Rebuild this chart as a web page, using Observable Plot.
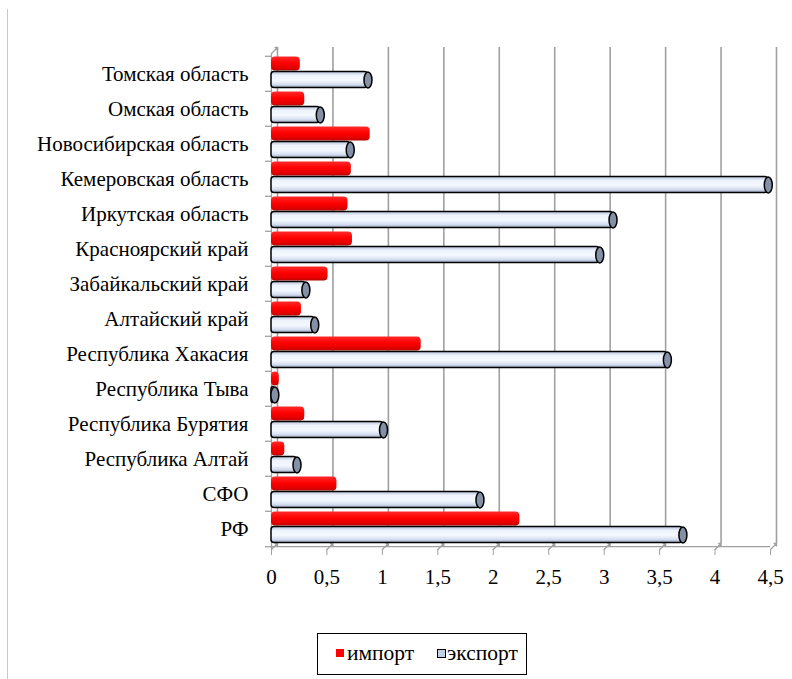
<!DOCTYPE html>
<html>
<head>
<meta charset="utf-8">
<script src="https://cdn.jsdelivr.net/npm/d3@7"></script>
<script src="https://cdn.jsdelivr.net/npm/@observablehq/plot@0.6"></script>
<style>
  html, body { margin: 0; padding: 0; background: #fff; }
  #wrap { position: relative; width: 792px; height: 679px; overflow: hidden; font-family: "Liberation Serif", "DejaVu Serif", serif; }
  #frame { position: absolute; left: 7px; top: 9px; width: 0; height: 680px; border-left: 1px solid #c8c8c8; }
  #chart { position: absolute; left: 0; top: 0; }
  #legend { position: absolute; left: 317px; top: 633px; width: 210px; height: 42px; border: 1.5px solid #000; box-sizing: border-box; font-size: 21.5px; color: #000; }
  .li { position: absolute; top: 6px; height: 26px; line-height: 26px; display: flex; align-items: center; }
  .sw { display: inline-block; width: 8px; height: 8px; margin-right: 3px; }
</style>
</head>
<body>
<div id="wrap">
  <div id="frame"></div>
  <div id="chart"></div>
  <div id="legend">
    <div class="li" style="left:18px"><span class="sw" style="background:#ff0000"></span><span id="l1"></span></div>
    <div class="li" style="left:119px"><span class="sw" style="background:#c4d0e6;border:1.5px solid #000;width:7px;height:7px;margin-right:1px"></span><span id="l2"></span></div>
  </div>
</div>
<script>
const categories = ["Томская область", "Омская область", "Новосибирская область", "Кемеровская область", "Иркутская область", "Красноярский край", "Забайкальский край", "Алтайский край", "Республика Хакасия", "Республика Тыва", "Республика Бурятия", "Республика Алтай", "СФО", "РФ"];
const importValues = [0.26, 0.30, 0.89, 0.72, 0.69, 0.73, 0.51, 0.27, 1.35, 0.07, 0.30, 0.12, 0.59, 2.24];
const exportValues = [0.87, 0.44, 0.71, 4.48, 3.08, 2.96, 0.31, 0.39, 3.57, 0.03, 1.01, 0.23, 1.88, 3.71];
const xTicks = [0, 0.5, 1, 1.5, 2, 2.5, 3, 3.5, 4, 4.5];
const seriesNames = ["импорт", "экспорт"];

document.getElementById("l1").textContent = seriesNames[0];
document.getElementById("l2").textContent = seriesNames[1];

const W = 792, H = 620, mT = 53, mB = 71, mL = 271, mR = 22;
const band = (H - mT - mB) / categories.length;

const imp = categories.map((c, i) => ({cat: c, v: importValues[i]}));
const exp = categories.map((c, i) => ({cat: c, v: exportValues[i]}));

const fmt = d => String(d).replace(".", ",");

const capSymbol = {
  draw(ctx) {
    const rx = 4, ry = 8, k = 0.5523;
    ctx.moveTo(rx, 0);
    ctx.bezierCurveTo(rx, k * ry, k * rx, ry, 0, ry);
    ctx.bezierCurveTo(-k * rx, ry, -rx, k * ry, -rx, 0);
    ctx.bezierCurveTo(-rx, -k * ry, -k * rx, -ry, 0, -ry);
    ctx.bezierCurveTo(k * rx, -ry, rx, -k * ry, rx, 0);
    ctx.closePath();
  }
};

const grid = "#a0a0a0";
const FS = 21;

const plot = Plot.plot({
  width: W, height: H,
  marginTop: mT, marginBottom: mB, marginLeft: mL, marginRight: mR,
  style: {fontFamily: "'Liberation Serif', serif", fontSize: FS + "px", color: "#000", background: "transparent"},
  x: {domain: [0, 4.5], axis: null},
  y: {domain: categories, padding: 0, axis: null},
  marks: [
    // back wall gridlines (3D offset)
    Plot.ruleX(xTicks, {dx: 6, dy: -6, stroke: grid, strokeWidth: 1.6}),
    // floor diagonals
    Plot.vector(xTicks, {x: d => d, frameAnchor: "bottom", rotate: 45, length: 8.5, anchor: "start", stroke: grid, strokeWidth: 1.3}),
    Plot.vector([0], {x: d => d, frameAnchor: "top", rotate: 45, length: 8.5, anchor: "start", stroke: grid, strokeWidth: 1.3}),
    // axes lines
    Plot.ruleX([0], {stroke: grid, strokeWidth: 1.3}),
    Plot.ruleY([categories[categories.length - 1]], {dy: band / 2, stroke: grid, strokeWidth: 1.3}),
    // x axis
    Plot.axisX({ticks: xTicks, tickFormat: fmt, tickSize: 6, tickPadding: 14, stroke: grid, fill: "#000", fontSize: FS, label: null}),
    // y axis labels
    Plot.axisY({tickSize: 0, tickPadding: 23, fill: "#000", fontSize: FS, label: null}),
    // y boundary ticks
    Plot.axisY({tickSize: 6, tickFormat: null, dy: -band / 2, stroke: grid, strokeWidth: 1.3, label: null}),
    Plot.axisY({ticks: [categories[categories.length - 1]], tickSize: 6, tickFormat: null, dy: band / 2, stroke: grid, strokeWidth: 1.3, label: null}),
    // import bars
    Plot.barX(imp, {x: "v", y: "cat", insetTop: 0.5, insetBottom: band - 15, fill: "url(#gImport)", rx: 4}),
    // export bars
    Plot.barX(exp, {x: "v", y: "cat", insetTop: 15.5, insetBottom: band - 32, fill: "url(#gExport)", stroke: "#000", strokeWidth: 1.5, rx: 3}),
    Plot.dot(exp, {x: "v", y: "cat", dy: (15.5 + 32) / 2 - band / 2, symbol: capSymbol, r: 5, fill: "#8490a6", stroke: "#000", strokeWidth: 1.5})
  ]
});

const ns = "http://www.w3.org/2000/svg";
const defs = document.createElementNS(ns, "defs");
function grad(id, stops) {
  const g = document.createElementNS(ns, "linearGradient");
  g.setAttribute("id", id);
  g.setAttribute("x1", "0"); g.setAttribute("y1", "0");
  g.setAttribute("x2", "0"); g.setAttribute("y2", "1");
  for (const [o, c] of stops) {
    const s = document.createElementNS(ns, "stop");
    s.setAttribute("offset", o);
    s.setAttribute("stop-color", c);
    g.appendChild(s);
  }
  defs.appendChild(g);
}
grad("gImport", [["0%", "#ff2a2a"], ["45%", "#ff0000"], ["85%", "#e00000"], ["100%", "#b00000"]]);
grad("gExport", [["0%", "#b8c4da"], ["25%", "#eef3fc"], ["55%", "#f4f8ff"], ["80%", "#d6dff0"], ["100%", "#94a2bc"]]);
plot.insertBefore(defs, plot.firstChild);

document.getElementById("chart").appendChild(plot);
</script>
</body>
</html>
